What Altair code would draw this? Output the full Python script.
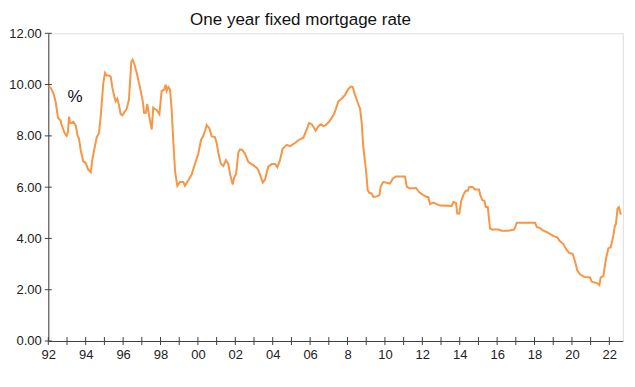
import altair as alt
import pandas as pd

# Decimal year / rate (%)
years = [
    1992.02, 1992.16, 1992.30, 1992.40, 1992.52, 1992.66, 1992.70, 1992.88, 1992.98, 1993.05,
    1993.11, 1993.16, 1993.23, 1993.34, 1993.47, 1993.55, 1993.64, 1993.73, 1993.87, 1994.00,
    1994.12, 1994.27, 1994.35, 1994.44, 1994.59, 1994.71, 1994.80, 1994.94, 1995.03, 1995.12,
    1995.25, 1995.34, 1995.42, 1995.51, 1995.60, 1995.69, 1995.78, 1995.87, 1995.96, 1996.05,
    1996.19, 1996.31, 1996.44, 1996.51, 1996.58, 1996.73, 1996.90, 1997.05, 1997.12, 1997.22,
    1997.29, 1997.40, 1997.53, 1997.61, 1997.80, 1997.94, 1998.06, 1998.19, 1998.28, 1998.33,
    1998.42, 1998.51, 1998.60, 1998.68, 1998.78, 1998.90, 1999.04, 1999.22, 1999.31, 1999.49,
    1999.67, 1999.84, 2000.02, 2000.17, 2000.29, 2000.38, 2000.47, 2000.61, 2000.74, 2000.91,
    2001.01, 2001.09, 2001.22, 2001.36, 2001.50, 2001.63, 2001.72, 2001.86, 2001.95, 2002.04,
    2002.16, 2002.25, 2002.37, 2002.52, 2002.70, 2002.96, 2003.18, 2003.32, 2003.47, 2003.59,
    2003.76, 2003.95, 2004.12, 2004.25, 2004.39, 2004.53, 2004.75, 2004.93, 2005.19, 2005.37,
    2005.64, 2005.82, 2005.94, 2006.09, 2006.30, 2006.44, 2006.58, 2006.71, 2006.83, 2007.01,
    2007.19, 2007.33, 2007.51, 2007.69, 2007.87, 2008.04, 2008.17, 2008.28, 2008.40, 2008.52,
    2008.67, 2008.76, 2008.84, 2008.99, 2009.08, 2009.17, 2009.29, 2009.38, 2009.56, 2009.70,
    2009.78, 2009.91, 2010.10, 2010.27, 2010.42, 2010.59, 2011.07, 2011.17, 2011.34, 2011.66,
    2011.84, 2012.05, 2012.24, 2012.32, 2012.41, 2012.59, 2012.77, 2012.95, 2013.57, 2013.66,
    2013.80, 2013.87, 2013.98, 2014.07, 2014.19, 2014.32, 2014.43, 2014.51, 2014.69, 2014.81,
    2015.03, 2015.10, 2015.21, 2015.32, 2015.39, 2015.50, 2015.62, 2015.71, 2016.06, 2016.24,
    2016.60, 2016.92, 2017.05, 2018.03, 2018.12, 2018.29, 2018.47, 2018.74, 2019.01, 2019.22,
    2019.36, 2019.54, 2019.72, 2019.86, 2020.04, 2020.17, 2020.29, 2020.43, 2020.65, 2020.97,
    2021.06, 2021.36, 2021.47, 2021.54, 2021.68, 2021.82, 2021.95, 2022.07, 2022.21, 2022.30,
    2022.35, 2022.44, 2022.51, 2022.60, 2022.65,
]
rates = [
    9.95, 9.84, 9.60, 9.30, 8.70, 8.60, 8.45, 8.10, 8.00, 8.15,
    8.75, 8.50, 8.50, 8.55, 8.40, 8.05, 7.90, 7.45, 7.00, 6.95,
    6.70, 6.58, 7.05, 7.40, 7.95, 8.10, 8.75, 10.05, 10.45, 10.35,
    10.35, 10.30, 9.90, 9.60, 9.35, 9.45, 9.20, 8.85, 8.80, 8.90,
    9.05, 9.40, 10.90, 10.97, 10.85, 10.45, 9.90, 9.35, 8.90, 8.90,
    9.25, 8.75, 8.25, 9.10, 9.00, 8.85, 9.75, 9.80, 10.00, 9.75,
    9.90, 9.80, 9.00, 7.85, 6.60, 6.05, 6.20, 6.20, 6.05, 6.27,
    6.50, 6.90, 7.30, 7.85, 8.00, 8.20, 8.42, 8.30, 7.98, 7.95,
    7.70, 7.35, 6.92, 6.82, 7.05, 6.90, 6.50, 6.10, 6.40, 6.50,
    7.35, 7.47, 7.45, 7.30, 6.98, 6.86, 6.73, 6.50, 6.18, 6.30,
    6.80, 6.90, 6.90, 6.78, 7.05, 7.50, 7.65, 7.60, 7.72, 7.83,
    7.93, 8.25, 8.50, 8.45, 8.20, 8.38, 8.45, 8.38, 8.42, 8.55,
    8.74, 8.95, 9.35, 9.45, 9.60, 9.82, 9.92, 9.90, 9.60, 9.35,
    9.06, 8.50, 7.60, 6.65, 5.88, 5.78, 5.75, 5.62, 5.64, 5.68,
    6.04, 6.20, 6.17, 6.14, 6.33, 6.42, 6.42, 6.01, 5.95, 5.97,
    5.80, 5.69, 5.62, 5.62, 5.34, 5.40, 5.34, 5.28, 5.27, 5.42,
    5.38, 4.97, 4.97, 5.43, 5.69, 5.86, 5.86, 6.01, 6.01, 5.91,
    5.91, 5.69, 5.49, 5.47, 5.23, 5.23, 4.39, 4.35, 4.35, 4.30,
    4.30, 4.35, 4.61, 4.61, 4.45, 4.40, 4.30, 4.22, 4.09, 4.04,
    3.89, 3.78, 3.55, 3.43, 3.40, 3.09, 2.75, 2.60, 2.50, 2.48,
    2.31, 2.25, 2.18, 2.48, 2.53, 3.20, 3.62, 3.65, 4.10, 4.50,
    4.55, 5.17, 5.22, 4.97, 4.95,
]

title_text = "One year fixed mortgage rate"
unit_label = ["%"]
unit_year = [1993.43]
unit_value = [9.5]

tick_years = list(range(1992, 2023))
label_years = list(range(1992, 2023, 2))
label_texts = ["92", "94", "96", "98", "00", "02", "04", "06", "8",
               "10", "12", "14", "16", "18", "20", "22"]
y_ticks = [0, 2, 4, 6, 8, 10, 12]

df = pd.DataFrame({"year": years, "rate": rates})
df_unit = pd.DataFrame({"year": unit_year, "rate": unit_value, "txt": unit_label})
df_xt = pd.DataFrame({"year": tick_years, "rate": [0] * len(tick_years)})
df_yt = pd.DataFrame({"year": [1992] * len(y_ticks), "rate": y_ticks})

label_expr = "''"
for yv, lt in reversed(list(zip(label_years, label_texts))):
    label_expr = f"datum.value == {yv} ? '{lt}' : ({label_expr})"

FONT = "Liberation Sans"
AX = "#404040"

x_scale = alt.Scale(domain=[1992, 2022.72], nice=False, zero=False)
y_scale = alt.Scale(domain=[0, 12], nice=False)

x_axis = alt.Axis(
    values=tick_years, labelExpr=label_expr, title=None, grid=False,
    ticks=False, labelPadding=8, labelFontSize=13, labelFont=FONT,
    labelColor="#222222", domainColor=AX,
    labelOverlap=False, labelFlush=False, labelBound=False,
)
y_axis = alt.Axis(
    values=y_ticks, format=".2f", title=None, grid=False,
    ticks=False, labelPadding=7, labelFontSize=13, labelFont=FONT,
    labelColor="#222222", domainColor=AX,
)

X = alt.X("year:Q", scale=x_scale, axis=x_axis)
Y = alt.Y("rate:Q", scale=y_scale, axis=y_axis)

line = alt.Chart(df).mark_line(color="#F79646", strokeWidth=2, interpolate="linear").encode(x=X, y=Y)

unit = alt.Chart(df_unit).mark_text(
    font=FONT, fontSize=17, color="#111111", align="center", baseline="middle"
).encode(x=X, y=Y, text="txt:N")

xticks = alt.Chart(df_xt).mark_tick(
    orient="vertical", size=8, thickness=1, color=AX, opacity=1, clip=False
).encode(x=X, y=Y)

yticks = alt.Chart(df_yt).mark_tick(
    orient="horizontal", size=7, thickness=1, color=AX, opacity=1, clip=False
).encode(x=X, y=Y)

chart = (
    alt.layer(line, unit, xticks, yticks)
    .properties(
        width=574.5,
        height=307.7,
        autosize=alt.AutoSizeParams(type="none"),
        padding={"left": 40.3, "top": 25.3, "right": 4, "bottom": 38},
        title=alt.TitleParams(
            text=title_text, fontSize=17, font=FONT, fontWeight="normal",
            color="#111111", anchor="middle", dx=-35, dy=4, offset=2,
        ),
    )
    .configure_view(stroke=AX, strokeWidth=1)
    .configure(background="white")
)

chart.save("out.html", embed_options={"renderer": "svg", "actions": False})
